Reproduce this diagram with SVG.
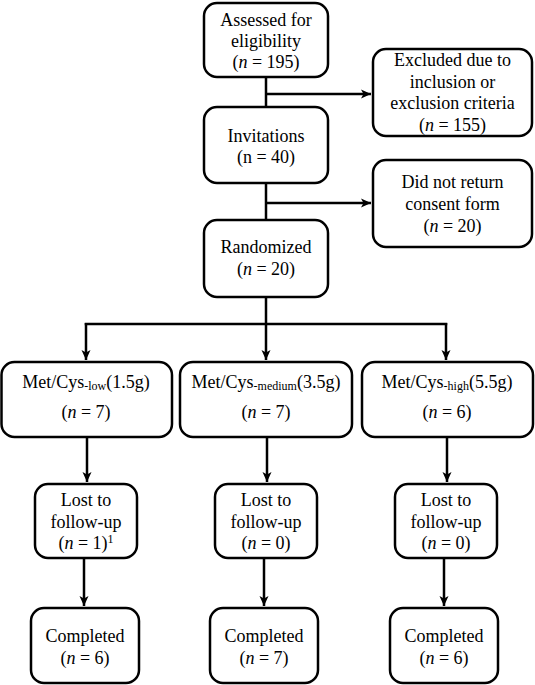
<svg xmlns="http://www.w3.org/2000/svg" width="535" height="685" viewBox="0 0 535 685">
<defs>
<style>
.box{fill:#fff;stroke:#000;stroke-width:2.5}
.t{font-size:18px;fill:#000;text-anchor:middle}
.sub{font-size:12px}
.ln{fill:none;stroke:#000;stroke-width:2.5}
</style>
<marker id="ah" viewBox="0 0 12 12" refX="11" refY="6" markerWidth="12" markerHeight="12" markerUnits="userSpaceOnUse" orient="auto">
<path d="M1,1.5 L11,6 L1,10.5 L3.5,6 z" fill="#000"/>
</marker>
</defs>
<rect width="535" height="685" fill="#fff"/>
<g id="connectors">
<line class="ln" x1="266" y1="77" x2="266" y2="107"/>
<line class="ln" x1="266" y1="94" x2="371" y2="94" marker-end="url(#ah)"/>
<line class="ln" x1="266" y1="183" x2="266" y2="220"/>
<line class="ln" x1="266" y1="203" x2="371" y2="203" marker-end="url(#ah)"/>
<line class="ln" x1="266" y1="297" x2="266" y2="324"/>
<line class="ln" x1="84.75" y1="324" x2="447.25" y2="324"/>
<line class="ln" x1="86" y1="323" x2="86" y2="360" marker-end="url(#ah)"/>
<line class="ln" x1="266" y1="323" x2="266" y2="360" marker-end="url(#ah)"/>
<line class="ln" x1="446" y1="323" x2="446" y2="360" marker-end="url(#ah)"/>
<line class="ln" x1="87" y1="437" x2="87" y2="482" marker-end="url(#ah)"/>
<line class="ln" x1="267" y1="437" x2="267" y2="482" marker-end="url(#ah)"/>
<line class="ln" x1="447" y1="437" x2="447" y2="482" marker-end="url(#ah)"/>
<line class="ln" x1="84" y1="558" x2="84" y2="606" marker-end="url(#ah)"/>
<line class="ln" x1="264" y1="558" x2="264" y2="606" marker-end="url(#ah)"/>
<line class="ln" x1="444" y1="558" x2="444" y2="606" marker-end="url(#ah)"/>
</g>
<g font-family="'Liberation Serif', 'Times New Roman', 'DejaVu Serif', serif">
<g id="assessed">
<rect class="box" x="204" y="3" width="124" height="74" rx="13"/>
<text class="t" x="266" y="26">Assessed for</text>
<text class="t" x="266" y="47">eligibility</text>
<text class="t" x="266" y="68">(<tspan font-style="italic">n</tspan> = 195)</text>
</g>
<g id="excluded">
<rect class="box" x="373" y="49" width="159" height="87" rx="13"/>
<text class="t" x="452.5" y="66">Excluded due to</text>
<text class="t" x="452.5" y="87.5">inclusion or</text>
<text class="t" x="452.5" y="109">exclusion criteria</text>
<text class="t" x="452.5" y="130.5">(<tspan font-style="italic">n</tspan> = 155)</text>
</g>
<g id="invitations">
<rect class="box" x="204" y="107" width="124" height="76" rx="13"/>
<text class="t" x="266" y="142">Invitations</text>
<text class="t" x="266" y="163">(n = 40)</text>
</g>
<g id="noconsent">
<rect class="box" x="373" y="160" width="159" height="87" rx="13"/>
<text class="t" x="452.5" y="188">Did not return</text>
<text class="t" x="452.5" y="210">consent form</text>
<text class="t" x="452.5" y="232">(<tspan font-style="italic">n</tspan> = 20)</text>
</g>
<g id="randomized">
<rect class="box" x="204" y="220" width="124" height="77" rx="13"/>
<text class="t" x="266" y="253">Randomized</text>
<text class="t" x="266" y="275">(<tspan font-style="italic">n</tspan> = 20)</text>
</g>
<g id="met-low">
<rect class="box" x="1.5" y="362" width="170.5" height="75" rx="13"/>
<text class="t" x="86" y="388">Met/Cys<tspan class="sub" dy="2">-low</tspan><tspan dy="-2">(1.5g)</tspan></text>
<text class="t" x="86" y="418">(<tspan font-style="italic">n</tspan> = 7)</text>
</g>
<g id="met-medium">
<rect class="box" x="180" y="362" width="172" height="75" rx="13"/>
<text class="t" x="266" y="388">Met/Cys<tspan class="sub" dy="2">-medium</tspan><tspan dy="-2">(3.5g)</tspan></text>
<text class="t" x="266" y="418">(<tspan font-style="italic">n</tspan> = 7)</text>
</g>
<g id="met-high">
<rect class="box" x="362" y="362" width="171" height="75" rx="13"/>
<text class="t" x="447" y="388">Met/Cys<tspan class="sub" dy="2">-high</tspan><tspan dy="-2">(5.5g)</tspan></text>
<text class="t" x="447" y="418">(<tspan font-style="italic">n</tspan> = 6)</text>
</g>
<g id="lost-low">
<rect class="box" x="35" y="484" width="102" height="74" rx="13"/>
<text class="t" x="86" y="506">Lost to</text>
<text class="t" x="86" y="528">follow-up</text>
<text class="t" x="86" y="549">(<tspan font-style="italic">n</tspan> = 1)<tspan class="sub" dy="-6">1</tspan></text>
</g>
<g id="lost-medium">
<rect class="box" x="215" y="484" width="102" height="74" rx="13"/>
<text class="t" x="266" y="506">Lost to</text>
<text class="t" x="266" y="528">follow-up</text>
<text class="t" x="266" y="549">(<tspan font-style="italic">n</tspan> = 0)</text>
</g>
<g id="lost-high">
<rect class="box" x="395" y="484" width="102" height="74" rx="13"/>
<text class="t" x="446" y="506">Lost to</text>
<text class="t" x="446" y="528">follow-up</text>
<text class="t" x="446" y="549">(<tspan font-style="italic">n</tspan> = 0)</text>
</g>
<g id="completed-low">
<rect class="box" x="31" y="608" width="108" height="75" rx="13"/>
<text class="t" x="85" y="642">Completed</text>
<text class="t" x="85" y="664">(<tspan font-style="italic">n</tspan> = 6)</text>
</g>
<g id="completed-medium">
<rect class="box" x="210" y="608" width="108" height="75" rx="13"/>
<text class="t" x="264" y="642">Completed</text>
<text class="t" x="264" y="664">(<tspan font-style="italic">n</tspan> = 7)</text>
</g>
<g id="completed-high">
<rect class="box" x="390" y="608" width="108" height="75" rx="13"/>
<text class="t" x="444" y="642">Completed</text>
<text class="t" x="444" y="664">(<tspan font-style="italic">n</tspan> = 6)</text>
</g>
</g>
</svg>
